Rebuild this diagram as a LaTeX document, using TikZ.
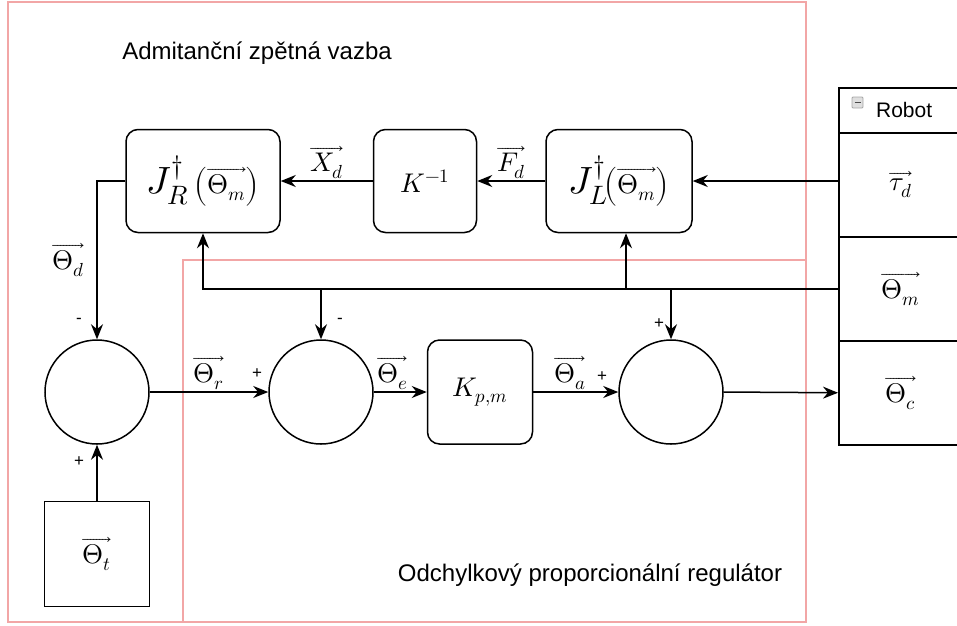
\documentclass[tikz,border=0pt]{standalone}
\usepackage{fontspec}
\usepackage{unicode-math}
\setmainfont{Liberation Sans}
\setmathfont{Latin Modern Math}
\usetikzlibrary{arrows.meta,calc}
\definecolor{pinkframe}{RGB}{242,166,166}
\newcommand\lblsize{\fontsize{27}{31}\selectfont}
\newcommand\jacsize{\fontsize{38}{42}\selectfont}

\begin{document}
\begin{tikzpicture}[x=1pt,y=-1pt,>={Stealth[length=15pt,width=12pt]},line width=1.5pt,
blk/.style={draw,rounded corners=12pt,inner sep=0pt,minimum height=103pt,font=\lblsize},
sumnode/.style={circle,draw,minimum size=104pt,inner sep=0pt},
robrow/.style={draw,anchor=north west,minimum width=124pt,minimum height=104pt,inner sep=0pt,font=\lblsize},
pm/.style={font=\fontsize{17}{19}\selectfont,inner sep=0pt},
sig/.style={font=\lblsize,inner sep=2pt}]
\useasboundingbox (0,0) rectangle (957,625);

% frames
\draw[draw=pinkframe,line width=1.6pt] (8,2) rectangle (806,622);
\draw[draw=pinkframe,line width=1.6pt] (183,260) rectangle (806,622);
\node[font=\fontsize{24}{28}\selectfont] (admt) at (257,53) {Admitanční zpětná vazba};
\node[font=\fontsize{24}{28}\selectfont] (odch) at (590,575) {Odchylkový proporcionální regulátor};

% blocks
\node[blk,minimum width=154pt] (JR) at (203,181) {{\jacsize$J^{\dagger}_{R}$}\,$\left(\overrightarrow{\Theta_m}\right)$};
\node[blk,minimum width=103pt] (K) at (425,181) {$K^{-1}$};
\node[blk,minimum width=146pt] (JL) at (619,181) {{\jacsize$J^{\dagger}_{L}$}$\!\left(\overrightarrow{\Theta_m}\right)$};
\node[blk,minimum width=105pt,minimum height=104pt] (Kpm) at (480,392) {$K_{p,m}$};
\node[draw,minimum size=105pt,inner sep=0pt,font=\lblsize] (Tht) at (97,554) {$\overrightarrow{\Theta_t}$};

\node[sumnode] (s1) at (97,392) {};
\node[sumnode] (s2) at (321,392) {};
\node[sumnode] (s3) at (671,392) {};

% robot
\node[draw,anchor=north west,minimum width=124pt,minimum height=45pt] (rob) at (838,87) {};
\node[font=\fontsize{21}{24}\selectfont,anchor=west] (robt) at (872,110) {Robot};
\draw[gray!70,fill=gray!25,line width=.8pt,rounded corners=1pt] (852,97) rectangle (863,108);
\draw[black!70,line width=1.2pt] (854.5,102.5) -- (860.5,102.5);
\node[robrow] (rTau) at (838,132) {$\overrightarrow{\tau_d}$};
\node[robrow] (rThm) at (838,236) {$\overrightarrow{\Theta_m}$};
\node[robrow] (rThc) at (838,340) {$\overrightarrow{\Theta_c}$};

% connectors
\draw[->] (rTau.west |- JL.east) -- (JL.east);
\draw[->] (JL.west) -- (K.east) node[midway,above,sig] {$\overrightarrow{F_d}$};
\draw[->] (K.west) -- (JR.east) node[midway,above,sig] {$\overrightarrow{X_d}$};
\draw[->] (JR.west) -| (s1.north) node[pos=.75,left,inner sep=12pt,font=\lblsize] {$\overrightarrow{\Theta_d}$};
\draw[->] (Tht.north) -- (s1.south);
\draw[->] (s1.east) -- (s2.west) node[midway,above,sig] {$\overrightarrow{\Theta_r}$};
\draw[->] (s2.east) -- (Kpm.west) node[midway,above,sig,xshift=-8pt] {$\overrightarrow{\Theta_e}$};
\draw[->] (Kpm.east) -- (s3.west) node[midway,above,sig,xshift=-6pt] {$\overrightarrow{\Theta_a}$};
\draw[->] (s3.east) -- (rThc.west);

% feedback
\draw[->] (rThm.west) -| (JR.south);
\coordinate (jlin) at ([xshift=7pt]JL.south);
\draw[->] (jlin |- rThm.west) -- (jlin);
\draw[->] (s2.north |- rThm.west) -- (s2.north);
\draw[->] (s3.north |- rThm.west) -- (s3.north);

% signs
\node[pm] (m1) at (79,321) {-};
\node[pm] (p1) at (79,462) {+};
\node[pm] (m2) at (340,321) {-};
\node[pm] (p2) at (257,374) {+};
\node[pm] (p3) at (602,377) {+};
\node[pm] (p4) at (659,324) {+};
\end{tikzpicture}
\end{document}
